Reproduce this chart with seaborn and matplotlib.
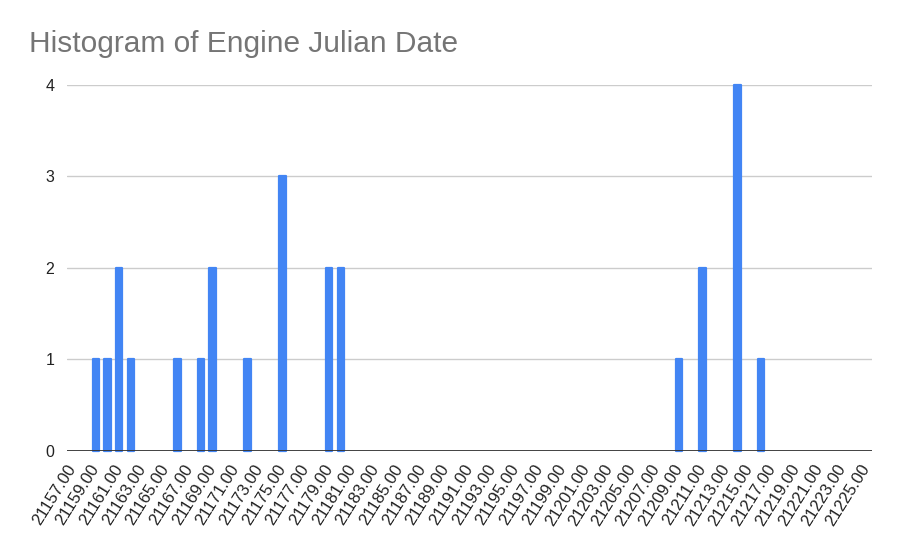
import numpy as np
import pandas as pd
import matplotlib
matplotlib.use("Agg")
import matplotlib.pyplot as plt
import seaborn as sns

# engine julian dates (bucket centres) and how many engines fall in each
julian_dates = [21159, 21160, 21161, 21162, 21166, 21168, 21169, 21172,
                21175, 21179, 21180, 21209, 21211, 21214, 21216]
counts = [1, 1, 2, 1, 1, 1, 2, 1, 3, 2, 2, 1, 2, 4, 1]

tick_values = list(range(21157, 21226, 2))
tick_labels = [f"{v}.00" for v in tick_values]
y_ticks = [0, 1, 2, 3, 4]

title = "Histogram of Engine Julian Date"
bar_color = "#4285F4"

sns.set_style("white")
plt.rcParams["font.family"] = ["Liberation Sans", "DejaVu Sans"]

df = pd.DataFrame({"date": julian_dates, "count": counts})

fig = plt.figure(figsize=(9, 5.56), dpi=100)
ax = fig.add_axes([66.7 / 900, 1 - 450.7 / 556, (871.7 - 66.7) / 900, (450.7 - 84.7) / 556])

sns.histplot(data=df, x="date", weights="count", discrete=True, shrink=0.55,
             color=bar_color, alpha=1, linewidth=1.6, edgecolor=bar_color, ax=ax, zorder=3)
# empty buckets get zero-height patches; hide them so no stubs show on the axis
for p in ax.patches:
    if p.get_height() == 0:
        p.set_visible(False)
    p.set_joinstyle("round")
    p.set_clip_on(False)

ax.set_xlim(21156.5, 21225.5)
ax.set_ylim(0, 4)
ax.set_xticks(tick_values)
ax.set_xticklabels(tick_labels, rotation=58, ha="right", va="center",
                   rotation_mode="anchor", fontsize=12, color="#222222")
ax.set_yticks(y_ticks)
ax.set_yticklabels([str(v) for v in y_ticks], fontsize=11.5, color="#222222")
ax.tick_params(axis="both", length=0)
ax.tick_params(axis="x", pad=11)
ax.tick_params(axis="y", pad=9)

ax.set_xlabel("")
ax.set_ylabel("")
for y in y_ticks[1:]:
    ax.axhline(y, color="#cccccc", linewidth=1, zorder=1)
ax.axhline(0, color="#333333", linewidth=1.3, zorder=4)
for s in ["top", "right", "left", "bottom"]:
    ax.spines[s].set_visible(False)

fig.text(29 / 900, 1 - 52 / 556, title, fontsize=21.5, color="#757575", va="baseline", ha="left")

fig.savefig("out.png", dpi=100, facecolor="white")
